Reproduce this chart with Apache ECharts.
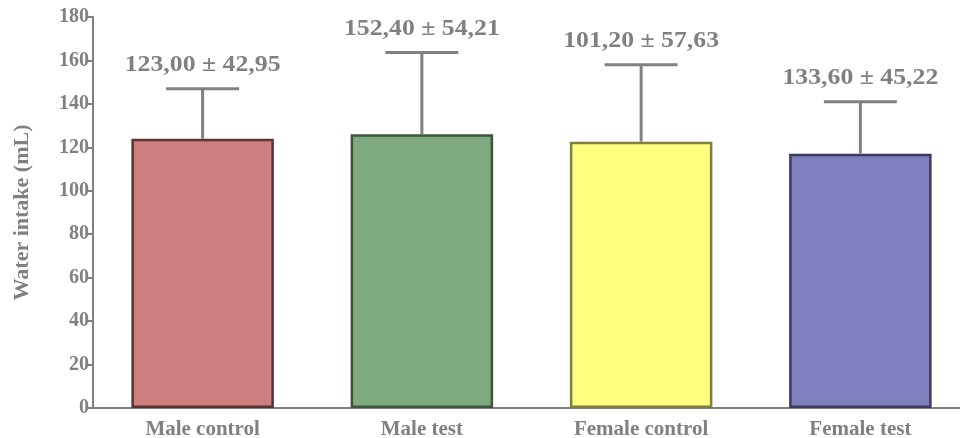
<!DOCTYPE html>
<html>
<head>
<meta charset="utf-8">
<script src="https://cdn.jsdelivr.net/npm/echarts@6/dist/echarts.min.js"></script>
<style>html,body{margin:0;padding:0;background:#fff}#c{width:960px;height:438px}</style>
</head>
<body>
<div id="c"></div>
<script>
var categories = ['Male control', 'Male test', 'Female control', 'Female test'];
var barMeans = [124.0, 126.0, 122.6, 117.1];
var errorTops = [147.0, 163.6, 158.0, 141.0];
var valueLabels = ['123,00 ± 42,95', '152,40 ± 54,21', '101,20 ± 57,63', '133,60 ± 45,22'];
var yTicks = [0, 20, 40, 60, 80, 100, 120, 140, 160, 180];

var fills = ['#CD7E7E', '#7FAA7F', '#FFFF80', '#7F7FBF'];
var borders = ['#5A3434', '#3D573D', '#7F7F3F', '#3B3B5E'];
var gray = '#808080';
var font = '"Liberation Serif", "Times New Roman", serif';

var chart = echarts.init(document.getElementById('c'), null, {renderer: 'canvas'});
var barData = barMeans.map(function (v, i) {
  return {value: v, itemStyle: {color: fills[i], borderColor: borders[i], borderWidth: 2.5}};
});
var errData = categories.map(function (c, i) { return [i, barMeans[i], errorTops[i]]; });

chart.setOption({
  animation: false,
  grid: {left: 93, width: 877, top: 17, bottom: 30, containLabel: false, outerBoundsMode: 'none'},
  xAxis: {
    type: 'category',
    data: categories,
    axisLine: {lineStyle: {color: gray, width: 2}},
    axisTick: {alignWithLabel: true, length: 5, lineStyle: {color: gray, width: 2}},
    axisLabel: {color: gray, fontFamily: font, fontWeight: 'bold', fontSize: 21, margin: 11}
  },
  yAxis: {
    type: 'value',
    min: yTicks[0],
    max: yTicks[yTicks.length - 1],
    interval: 20,
    name: 'Water intake (mL)',
    nameLocation: 'middle',
    nameGap: 60,
    nameTextStyle: {color: gray, fontFamily: font, fontWeight: 'bold', fontSize: 22},
    axisLine: {show: true, lineStyle: {color: gray, width: 2}},
    axisTick: {show: true, length: 6, lineStyle: {color: gray, width: 2}},
    axisLabel: {color: gray, fontFamily: font, fontWeight: 'bold', fontSize: 20, margin: 4},
    splitLine: {show: false}
  },
  series: [
    {
      type: 'bar',
      data: barData,
      barWidth: '65%',
      z: 2
    },
    {
      type: 'custom',
      z: 3,
      data: errData,
      renderItem: function (params, api) {
        var i = api.value(0);
        var base = api.coord([i, api.value(1)]);
        var top = api.coord([i, api.value(2)]);
        var hw = 36.5;
        var style = {stroke: gray, lineWidth: 3};
        return {
          type: 'group',
          children: [
            {type: 'line', shape: {x1: base[0], y1: base[1], x2: top[0], y2: top[1]}, style: style},
            {type: 'line', shape: {x1: top[0] - hw, y1: top[1], x2: top[0] + hw, y2: top[1]}, style: style},
            {type: 'text', x: top[0], y: top[1] - 12, scaleX: 1.12,
             style: {text: valueLabels[i], fill: gray, font: 'bold 23px ' + font, align: 'center', verticalAlign: 'bottom'}}
          ]
        };
      }
    }
  ]
});
</script>
</body>
</html>
